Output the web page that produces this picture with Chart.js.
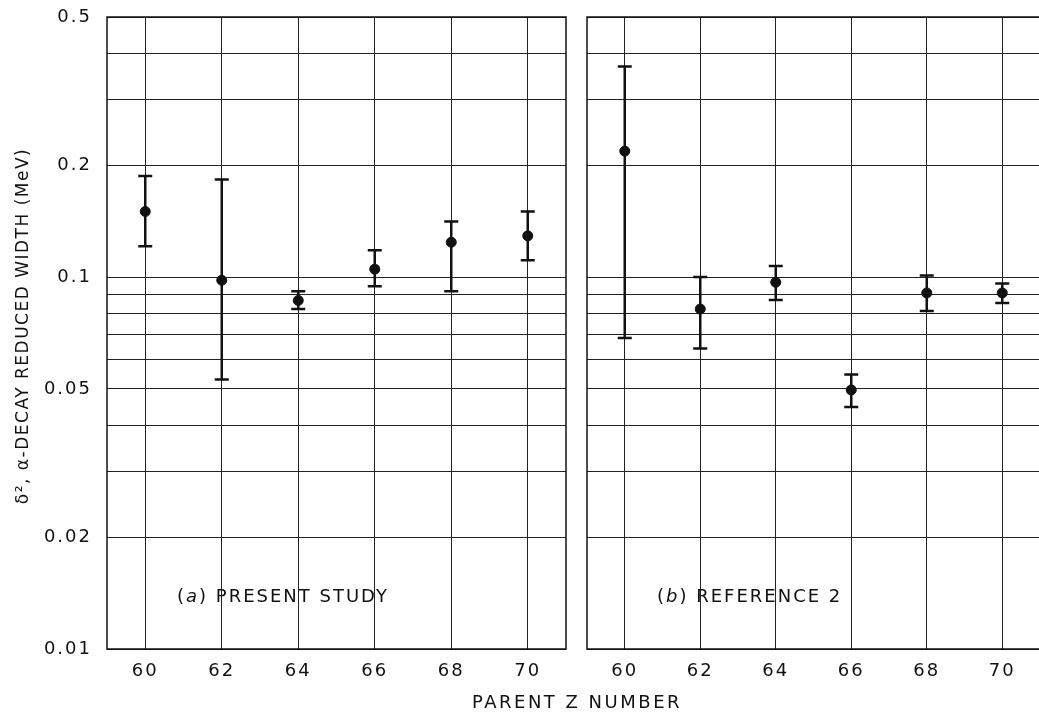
<!DOCTYPE html>
<html>
<head>
<meta charset="utf-8">
<script src="https://cdn.jsdelivr.net/npm/chart.js@4.4.0/dist/chart.umd.min.js"></script>
<style>
  html, body { margin: 0; padding: 0; background: #fff; overflow: hidden; }
  #wrap { position: relative; width: 1039px; height: 712px; overflow: hidden; }
  #canvas_a { position: absolute; left: 0; top: 0; }
  #canvas_b { position: absolute; left: 577px; top: 0; }
  #xtitle {
    position: absolute; left: 0; width: 1154px; top: 691px;
    text-align: center; font: 18px "DejaVu Sans", sans-serif; letter-spacing: 2.5px; color: #111;
  }
</style>
</head>
<body>
<div id="wrap">
  <canvas id="canvas_a" width="580" height="712"></canvas>
  <canvas id="canvas_b" width="469" height="712"></canvas>
  <div id="xtitle">PARENT Z NUMBER</div>
</div>
<script>
// parent Z numbers
var zValues = [60, 62, 64, 66, 68, 70];
var zTicks = [60, 62, 64, 66, 68, 70];

// (a) present study
var presentValues = [0.150, 0.098, 0.0865, 0.105, 0.124, 0.129];
var presentLow    = [0.121, 0.053, 0.082, 0.0944, 0.0915, 0.111];
var presentHigh   = [0.187, 0.183, 0.0915, 0.118, 0.141, 0.150];

// (b) reference 2
var ref2Values = [0.218, 0.082, 0.0968, 0.0497, 0.0906, 0.0906];
var ref2Low    = [0.0686, 0.0642, 0.0867, 0.0447, 0.081, 0.0851];
var ref2High   = [0.368, 0.100, 0.107, 0.0547, 0.101, 0.096];

// log axis grid and labels
var yGridValues = [0.01, 0.02, 0.03, 0.04, 0.05, 0.06, 0.07, 0.08, 0.09, 0.1, 0.2, 0.3, 0.4, 0.5];
var yTickValues = [0.01, 0.02, 0.05, 0.1, 0.2, 0.5];
var yTickLabels = ['0.01', '0.02', '0.05', '0.1', '0.2', '0.5'];

var FONT = '"DejaVu Sans", sans-serif';
var INK = '#111';

var errorBarPlugin = {
  id: 'errorBars',
  afterDatasetsDraw: function(chart) {
    var ctx = chart.ctx;
    var ys = chart.scales.y;
    chart.data.datasets.forEach(function(ds, di) {
      var meta = chart.getDatasetMeta(di);
      meta.data.forEach(function(pt, i) {
        var x = pt.x;
        var yl = ys.getPixelForValue(ds.errLow[i]);
        var yh = ys.getPixelForValue(ds.errHigh[i]);
        ctx.save();
        ctx.strokeStyle = INK;
        ctx.lineWidth = 2.5;
        ctx.beginPath();
        ctx.moveTo(x, yl); ctx.lineTo(x, yh);
        ctx.moveTo(x - 7, yl); ctx.lineTo(x + 7, yl);
        ctx.moveTo(x - 7, yh); ctx.lineTo(x + 7, yh);
        ctx.stroke();
        ctx.restore();
      });
    });
  }
};

var framePlugin = {
  id: 'frame',
  beforeDraw: function(chart) {
    try { chart.ctx.letterSpacing = '2px'; } catch (e) {}
  },
  afterDraw: function(chart, args, opts) {
    var a = chart.chartArea;
    var ctx = chart.ctx;
    ctx.save();
    ctx.strokeStyle = INK;
    ctx.lineWidth = 1.5;
    ctx.strokeRect(a.left, a.top, a.right - a.left, a.bottom - a.top);
    ctx.fillStyle = INK;
    ctx.textBaseline = 'middle';
    try { ctx.letterSpacing = '2px'; } catch (e) {}
    // panel caption
    ctx.font = '18px ' + FONT;
    var x = a.left + 70, y = a.bottom - 52;
    ctx.fillText('(', x, y); x += ctx.measureText('(').width;
    ctx.font = 'italic 18px ' + FONT;
    ctx.fillText(opts.tag, x, y); x += ctx.measureText(opts.tag).width;
    ctx.font = '18px ' + FONT;
    ctx.fillText(') ' + opts.caption, x, y);
    // y axis title, left panel only
    if (opts.yTitle) {
      ctx.translate(24, (a.top + a.bottom) / 2 - 7);
      ctx.rotate(-Math.PI / 2);
      ctx.textAlign = 'center';
      try { ctx.letterSpacing = '1.5px'; } catch (e) {}
      ctx.font = '17px ' + FONT;
      ctx.fillText(opts.yTitle, 0, 0);
    }
    ctx.restore();
  }
};

function makeConfig(values, low, high, tag, caption, yWidth, padRight, showY) {
  var pts = [];
  for (var i in zValues) pts.push({x: zValues[i], y: values[i]});
  return {
    type: 'scatter',
    data: {
      datasets: [{
        data: pts,
        errLow: low,
        errHigh: high,
        backgroundColor: INK,
        borderColor: INK,
        pointRadius: 5,
        pointHoverRadius: 5,
        showLine: false
      }]
    },
    options: {
      responsive: false,
      animation: false,
      layout: { padding: { top: 17, right: padRight, bottom: 0, left: 0 } },
      plugins: {
        legend: { display: false },
        tooltip: { enabled: false },
        frame: { tag: tag, caption: caption, yTitle: showY ? 'δ², α-DECAY REDUCED WIDTH (MeV)' : '' }
      },
      scales: {
        x: {
          type: 'linear', min: 59, max: 71,
          afterBuildTicks: function(axis) { axis.ticks = zTicks.map(function(v) { return {value: v}; }); },
          afterFit: function(axis) { axis.height = 63; axis.paddingLeft = 0; axis.paddingRight = 0; },
          grid: { color: '#222', lineWidth: 1, drawTicks: false },
          border: { display: false },
          ticks: { color: INK, font: { family: FONT, size: 18 }, padding: 12, maxRotation: 0 }
        },
        y: {
          type: 'logarithmic', min: 0.01, max: 0.5,
          afterBuildTicks: function(axis) { axis.ticks = yGridValues.map(function(v) { return {value: v}; }); },
          afterFit: function(axis) { axis.width = yWidth; axis.paddingTop = 0; axis.paddingBottom = 0; },
          grid: { color: '#222', lineWidth: 1, drawTicks: false },
          border: { display: false },
          ticks: {
            display: showY,
            color: INK, font: { family: FONT, size: 18 }, padding: 15, autoSkip: false,
            callback: function(v) {
              var k = yTickValues.indexOf(v);
              return k >= 0 ? yTickLabels[k] : '';
            }
          }
        }
      }
    },
    plugins: [errorBarPlugin, framePlugin]
  };
}

new Chart(document.getElementById('canvas_a').getContext('2d'),
  makeConfig(presentValues, presentLow, presentHigh, 'a', 'PRESENT STUDY', 107, 14, true));
new Chart(document.getElementById('canvas_b').getContext('2d'),
  makeConfig(ref2Values, ref2Low, ref2High, 'b', 'REFERENCE 2', 10, 1, false));
</script>
</body>
</html>
